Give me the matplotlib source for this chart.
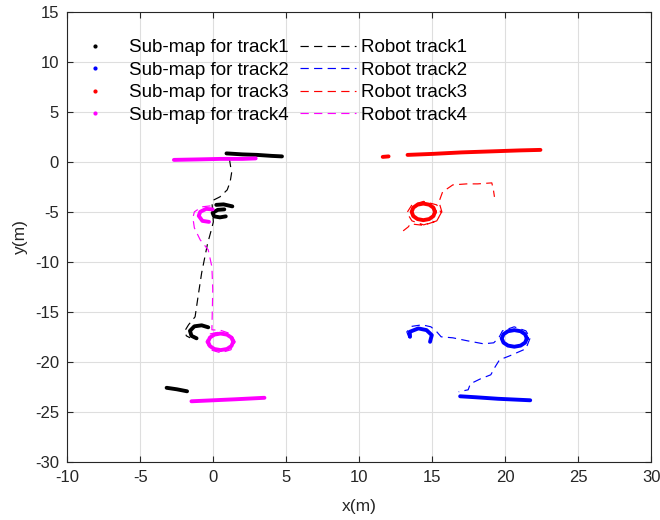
import matplotlib.pyplot as plt
import numpy as np

nan = np.nan

# sub-maps (point clouds), pieces split by nan
map1_x = [0.9, 2.0, 3.0, 4.0, 4.7, nan,
          0.2, 0.7, 1.3, nan,
          0.75, 0.3, -0.05, 0.05, 0.45, 0.85, nan,
          -0.35, -0.8, -1.3, -1.6, -1.5, -1.15, nan,
          -3.2, -2.5, -1.8]
map1_y = [0.85, 0.75, 0.7, 0.6, 0.55, nan,
          -4.3, -4.25, -4.45, nan,
          -4.75, -4.8, -5.1, -5.45, -5.55, -5.45, nan,
          -16.55, -16.35, -16.45, -16.9, -17.4, -17.65, nan,
          -22.6, -22.75, -22.95]

map2_x = [13.47, 13.45, 14.04, 14.6, 14.96, 14.84, nan,
          21.47, 21.35, 21.04, 20.61, 20.18, 19.87, 19.75, 19.87, 20.18, 20.61, 21.04, 21.35, 21.47, nan,
          16.9, 18.0, 19.5, 21.7]
map2_y = [-17.5, -17.0, -16.66, -16.83, -17.33, -18.0, nan,
          -17.66, -17.24, -16.94, -16.83, -16.94, -17.24, -17.66, -18.08, -18.38, -18.49, -18.38, -18.08, -17.66, nan,
          -23.45, -23.55, -23.7, -23.85]

map3_x = [11.6, 12.0, nan,
          13.3, 15.0, 17.0, 19.0, 21.0, 22.4, nan,
          15.18, 15.07, 14.78, 14.38, 13.98, 13.69, 13.58, 13.69, 13.98, 14.38, 14.78, 15.07, 15.18]
map3_y = [0.5, 0.55, nan,
          0.7, 0.8, 0.95, 1.05, 1.15, 1.2, nan,
          -5.0, -4.58, -4.28, -4.17, -4.28, -4.58, -5.0, -5.42, -5.72, -5.83, -5.72, -5.42, -5.0]

map4_x = [-2.7, -1.0, 0.5, 2.0, 2.9, nan,
          -0.05, -0.5, -0.9, -1.0, -0.75, -0.3, nan,
          1.36, 1.24, 0.93, 0.5, 0.07, -0.24, -0.36, -0.24, 0.07, 0.5, 0.93, 1.24, 1.36, nan,
          -1.5, 0.0, 1.5, 3.5]
map4_y = [0.2, 0.25, 0.3, 0.3, 0.35, nan,
          -4.75, -4.7, -5.0, -5.4, -5.9, -6.0, nan,
          -18.0, -17.58, -17.28, -17.17, -17.28, -17.58, -18.0, -18.42, -18.72, -18.83, -18.72, -18.42, -18.0, nan,
          -23.95, -23.85, -23.75, -23.6]

# robot tracks
track1_x = [1.1, 1.25, 1.15, 0.95, 0.45, -0.1, -0.05, 0.0, -0.1, -0.4, -0.8, -1.05, -1.25, -1.7, -1.95, -1.85, -1.6]
track1_y = [0.3, -1.1, -2.0, -2.8, -3.5, -3.9, -5.0, -6.0, -6.6, -8.2, -11.1, -13.5, -15.5, -16.3, -16.9, -17.4, -17.6]

track2_x = [13.4, 13.25, 13.6, 14.3, 14.9, 15.3, 15.6, 16.4, 17.4, 18.5, 19.2, 19.55, 19.8, 20.6, 21.4, 21.7, 21.4,
            20.3, 19.6, 19.3, 19.0, 18.3, 17.6, 17.45, 16.8]
track2_y = [-17.6, -17.0, -16.45, -16.3, -16.5, -17.0, -17.5, -17.6, -17.9, -18.2, -18.1, -17.6, -16.9, -16.5, -16.9, -17.6, -18.7,
            -19.4, -19.8, -20.5, -21.3, -21.7, -22.2, -22.8, -23.0]

track3_x = [13.0, 13.35, 13.5, 14.4, 15.3, 15.6, 15.3, 14.4, 13.6, 13.25, 13.6, 14.4, 15.3, 15.65, 15.45,
            15.7, 16.4, 17.35, 18.1, 19.07, 19.18, 19.25]
track3_y = [-6.9, -6.5, -6.2, -6.35, -5.9, -5.1, -4.3, -3.95, -4.3, -5.1, -5.9, -6.3, -5.9, -5.0, -4.0,
            -3.0, -2.3, -2.2, -2.2, -2.1, -2.8, -3.5]

track4_x = [-0.2, -0.8, -1.3, -1.4, -1.3, -0.9, -0.35, -0.1, -0.04, -0.07, -0.1, 0.5, 1.2, 1.5, 1.2, 0.5, -0.2, -0.5, -0.2, 0.5]
track4_y = [-4.4, -4.5, -5.0, -5.6, -6.6, -7.8, -8.8, -10.5, -12.8, -14.8, -16.8, -16.85, -17.2, -18.0, -18.8, -19.1, -18.8, -18.0, -17.2, -17.0]

colors = ['k', (0, 0, 1), (1, 0, 0), (1, 0, 1)]
labels_map = ['Sub-map for track1', 'Sub-map for track2', 'Sub-map for track3', 'Sub-map for track4']
labels_track = ['Robot track1', 'Robot track2', 'Robot track3', 'Robot track4']

plt.rcParams['font.family'] = ['Liberation Sans', 'DejaVu Sans']
plt.rcParams['axes.unicode_minus'] = False

fig = plt.figure(figsize=(6.6, 5.2), dpi=100)
ax = fig.add_axes([0.102, 0.112, 0.885, 0.865])

maps = [(map1_x, map1_y), (map2_x, map2_y), (map3_x, map3_y), (map4_x, map4_y)]
tracks = [(track1_x, track1_y), (track2_x, track2_y), (track3_x, track3_y), (track4_x, track4_y)]

map_handles = []
track_handles = []
for i in range(4):
    mx, my = maps[i]
    ax.plot(mx, my, '-', color=colors[i], lw=2.8, solid_capstyle='round', solid_joinstyle='round', zorder=3)
    h, = ax.plot([], [], '.', color=colors[i], ms=4, label=labels_map[i])
    map_handles.append(h)
for i in range(4):
    tx, ty = tracks[i]
    h, = ax.plot(tx, ty, '--', color=colors[i], lw=0.85, dashes=(7, 4.5), label=labels_track[i], zorder=2)
    track_handles.append(h)

ax.set_xlim(-10, 30)
ax.set_ylim(-30, 15)
ax.set_xticks(np.arange(-10, 31, 5))
ax.set_yticks(np.arange(-30, 16, 5))
ax.grid(True, color='#dedede', lw=0.8)
ax.set_axisbelow(True)
for s in ax.spines.values():
    s.set_color('#262626')
    s.set_linewidth(0.8)
ax.tick_params(direction='in', length=4, top=True, right=True, labelsize=12, colors='#262626', width=0.8, pad=6)
ax.set_xlabel('x(m)', fontsize=12.5, color='#262626', labelpad=10)
ax.set_ylabel('y(m)', fontsize=12.5, color='#262626', labelpad=5)

ax.legend(handles=map_handles + track_handles, ncol=2, loc='upper left', bbox_to_anchor=(0.0, 0.94),
          frameon=False, fontsize=13.5, handlelength=3.0, handletextpad=0.28, columnspacing=0.6,
          labelspacing=0.29, borderaxespad=0.0, borderpad=0.0)

plt.savefig('out.png')
